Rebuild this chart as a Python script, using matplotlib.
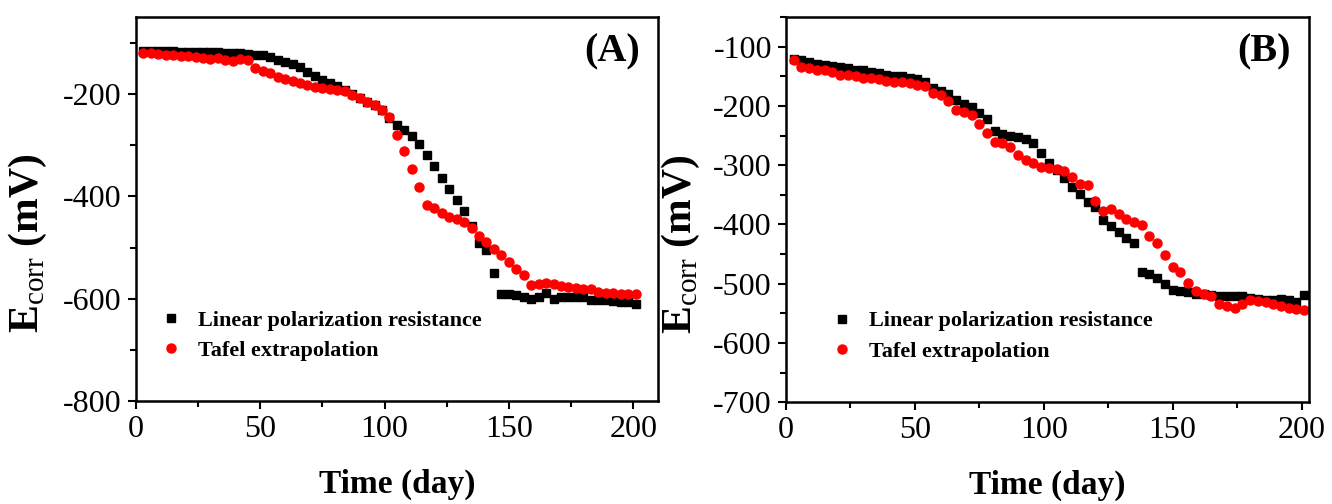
import matplotlib
matplotlib.use("Agg")
import matplotlib.pyplot as plt
from matplotlib.ticker import MultipleLocator

plt.rcParams["font.family"] = "Liberation Serif"
plt.rcParams["mathtext.fontset"] = "custom"
plt.rcParams["mathtext.rm"] = "Liberation Serif"
plt.rcParams["mathtext.bf"] = "Liberation Serif:bold"
plt.rcParams["axes.unicode_minus"] = False

# time axis, one reading every 3 days
days = list(range(3, 202, 3))

# panel A
a_lpr = [-117, -117, -117, -117, -117, -118, -118, -118, -118, -119,
         -119, -120, -120, -121, -122, -123, -124, -128, -133, -137,
         -142, -148, -157, -165, -172, -178, -185, -193, -200, -207,
         -215, -222, -232, -247, -260, -271, -283, -297, -320, -341,
         -364, -385, -408, -429, -458, -491, -505, -549, -590, -591,
         -593, -596, -600, -597, -588, -601, -597, -596, -596, -597,
         -602, -603, -603, -604, -606, -607, -611]
a_tafel = [-120, -121, -122, -123, -124, -125, -126, -128, -130, -131,
           -130, -133, -135, -131, -133, -150, -155, -160, -166, -170,
           -174, -178, -182, -186, -188, -191, -192, -195, -202, -208,
           -215, -222, -231, -245, -280, -312, -346, -381, -416, -422,
           -432, -441, -445, -450, -462, -478, -490, -502, -515, -528,
           -541, -554, -573, -572, -570, -571, -576, -577, -578, -580,
           -581, -586, -589, -589, -590, -590, -590]

# panel B
b_lpr = [-121, -122, -126, -129, -131, -133, -135, -136, -139, -140,
         -142, -145, -147, -149, -150, -153, -155, -160, -170, -174,
         -180, -190, -197, -202, -212, -222, -242, -248, -250, -252,
         -255, -262, -279, -297, -308, -322, -336, -349, -362, -370,
         -392, -403, -412, -422, -432, -481, -484, -490, -501, -510,
         -513, -514, -518, -518, -519, -520, -520, -520, -520, -524,
         -525, -527, -528, -525, -528, -531, -519]
b_tafel = [-122, -135, -136, -140, -140, -143, -147, -148, -150, -152,
           -153, -154, -157, -160, -160, -162, -164, -167, -178, -181,
           -192, -206, -210, -216, -231, -246, -261, -262, -270, -282,
           -291, -297, -303, -304, -307, -309, -320, -332, -334, -360,
           -378, -374, -382, -390, -395, -401, -420, -431, -451, -471,
           -481, -499, -513, -518, -521, -534, -537, -541, -535, -528,
           -530, -531, -534, -537, -541, -543, -545]

fig = plt.figure(figsize=(13.32, 5.04), dpi=100)
axA = fig.add_axes([0.102, 0.204, 0.392, 0.762])
axB = fig.add_axes([0.590, 0.202, 0.393, 0.764])

panels = [
    (axA, a_lpr, a_tafel, (0, 210), (-800, -50), 200, 100, "(A)", -0.166, 0.046),
    (axB, b_lpr, b_tafel, (0, 203), (-700, -50), 100, 50, "(B)", -0.16, 0.086),
]

for ax, lpr, tafel, xl, yl, ymaj, ymin, tag, ylx, legx in panels:
    ax.plot(days, lpr, "s", color="black", ms=6, label="Linear polarization resistance")
    ax.plot(days, tafel, "o", color="red", ms=6.5, label="Tafel extrapolation")
    ax.set_xlim(*xl)
    ax.set_ylim(*yl)
    ax.xaxis.set_major_locator(MultipleLocator(50))
    ax.xaxis.set_minor_locator(MultipleLocator(25))
    ax.yaxis.set_major_locator(MultipleLocator(ymaj))
    ax.yaxis.set_minor_locator(MultipleLocator(ymin))
    ax.tick_params(which="major", direction="out", length=6, width=1.5,
                   labelsize=23, pad=4)
    ax.tick_params(which="minor", direction="out", length=4, width=1.5)
    for s in ax.spines.values():
        s.set_linewidth(1.8)
    ax.set_xlabel("Time (day)", fontsize=24, fontweight="bold")
    ax.set_ylabel(r"E$_{\mathrm{corr}}$ (mV)", fontsize=30, fontweight="bold")
    ax.xaxis.set_label_coords(0.5, -0.175)
    ax.yaxis.set_label_coords(ylx, 0.41)
    ax.text(0.965, 0.91, tag, transform=ax.transAxes, ha="right", va="center",
            fontsize=29, fontweight="bold")
    ax.legend(loc="upper left", bbox_to_anchor=(legx, 0.237), frameon=False,
              prop={"weight": "bold", "size": 16}, handletextpad=0.7,
              handlelength=1.0, labelspacing=0.44, borderpad=0, borderaxespad=0)

fig.savefig("out.png", dpi=100)
